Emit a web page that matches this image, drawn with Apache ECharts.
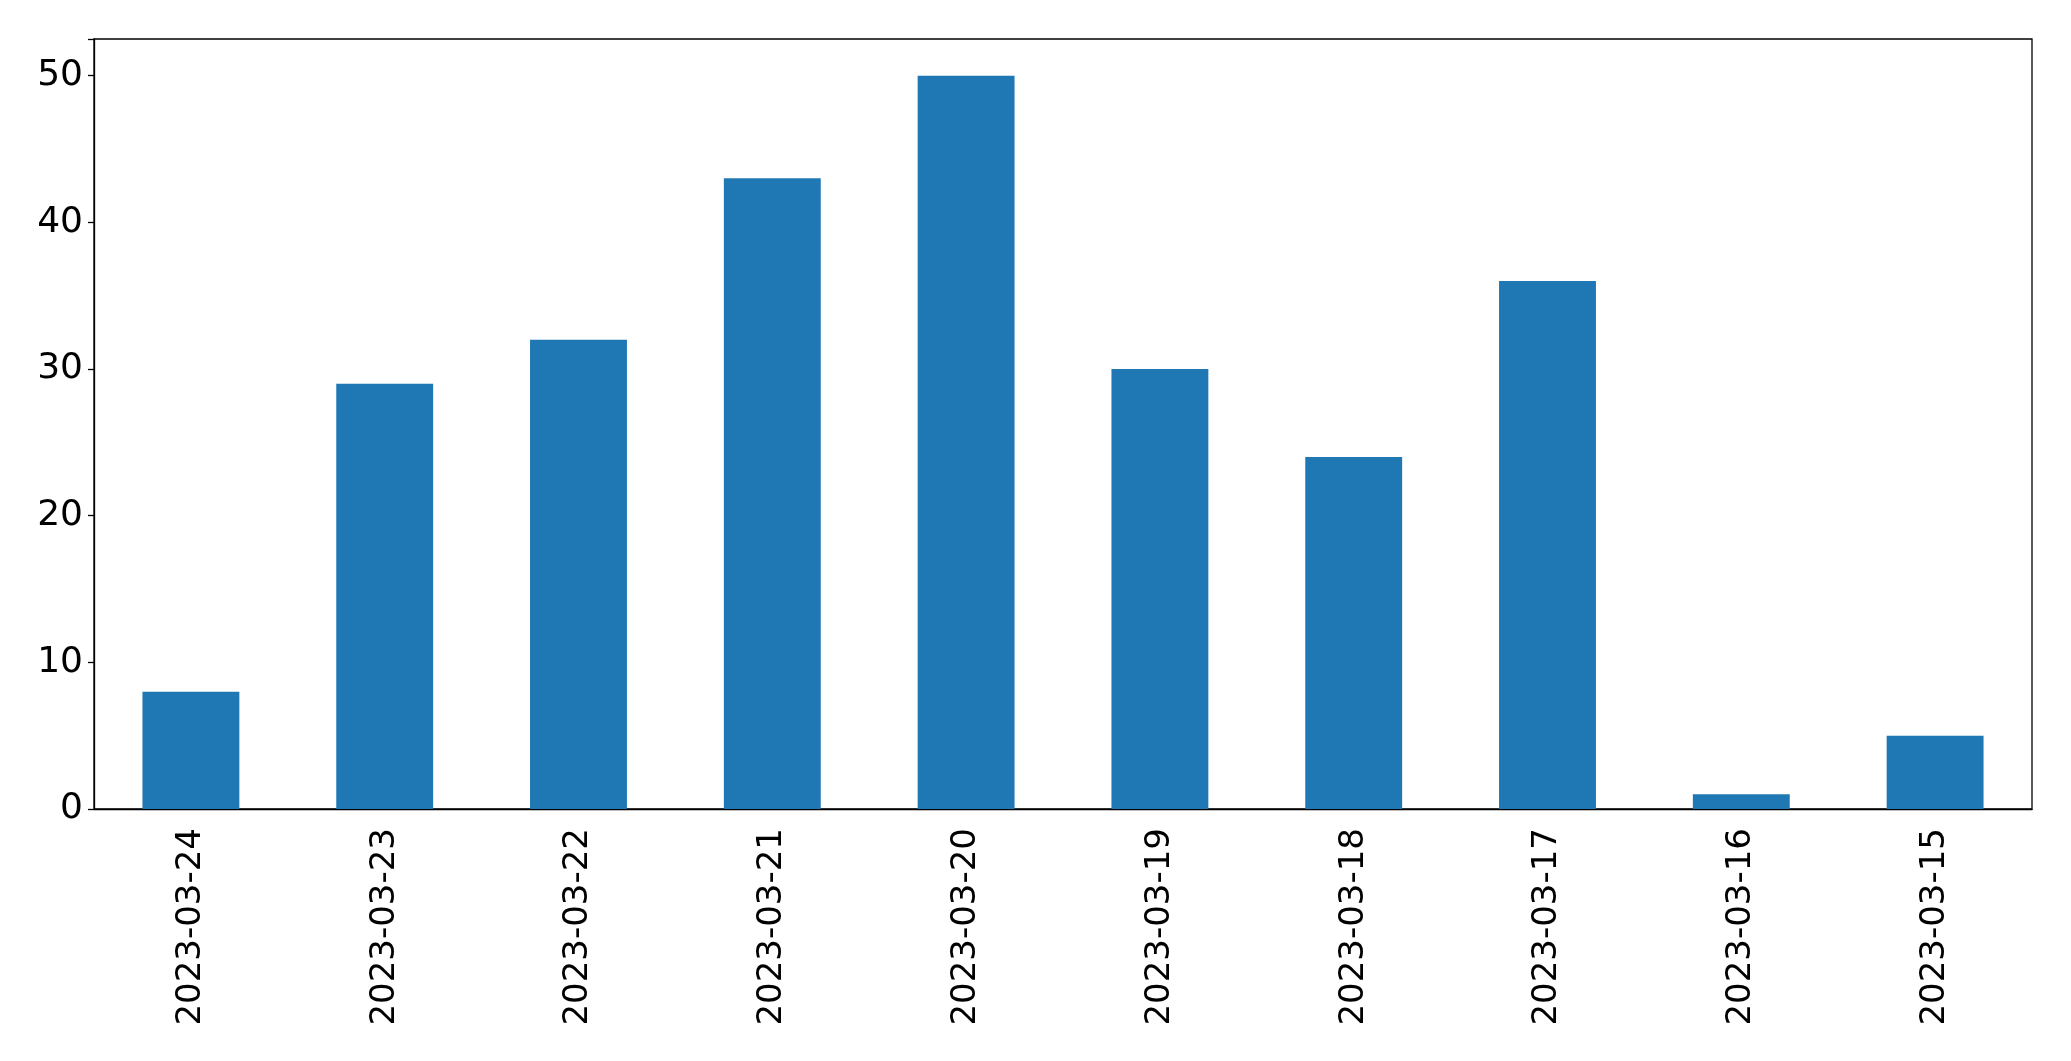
<!DOCTYPE html>
<html>
<head>
<meta charset="utf-8">
<script src="https://cdn.jsdelivr.net/npm/echarts@6/dist/echarts.min.js"></script>
<style>
    html, body { margin: 0; padding: 0; background: #fff; }
    #chart { width: 2071px; height: 1061px; }
</style>
</head>
<body>
<div id="chart"></div>
<script>
// data
const dates = ['2023-03-24', '2023-03-23', '2023-03-22', '2023-03-21', '2023-03-20',
               '2023-03-19', '2023-03-18', '2023-03-17', '2023-03-16', '2023-03-15'];
const counts = [8, 29, 32, 43, 50, 30, 24, 36, 1, 5];
const yTicks = [0, 10, 20, 30, 40, 50];

const font = 'DejaVu Sans';
let myChart = echarts.init(document.getElementById('chart'));

let option = {
    animation: false,
    grid: {
        left: 94, right: 39, top: 39, bottom: 252,
        show: true,
        borderColor: '#000',
        borderWidth: 1.3
    },
    xAxis: {
        type: 'category',
        data: dates,
        boundaryGap: true,
        axisLine: { lineStyle: { color: '#000', width: 1.3 } },
        axisTick: { alignWithLabel: true, length: 6, lineStyle: { color: '#000', width: 1.3 } },
        axisLabel: {
            rotate: 90,
            margin: 19,
            interval: 0,
            color: '#000',
            fontFamily: font,
            fontSize: 34
        }
    },
    yAxis: {
        type: 'value',
        min: 0,
        max: 52.5,
        interval: 10,
        splitLine: { show: false },
        axisLine: { show: true, lineStyle: { color: '#000', width: 1.3 } },
        axisTick: { show: true, length: 6, lineStyle: { color: '#000', width: 1.3 } },
        axisLabel: {
            margin: 11,
            color: '#000',
            fontFamily: font,
            fontSize: 36,
            formatter: function (v) { return yTicks.indexOf(v) >= 0 ? String(v) : ''; }
        }
    },
    series: [{
        type: 'bar',
        data: counts,
        barWidth: '50%',
        itemStyle: { color: '#1f77b4' }
    }]
};

myChart.setOption(option);
</script>
</body>
</html>
